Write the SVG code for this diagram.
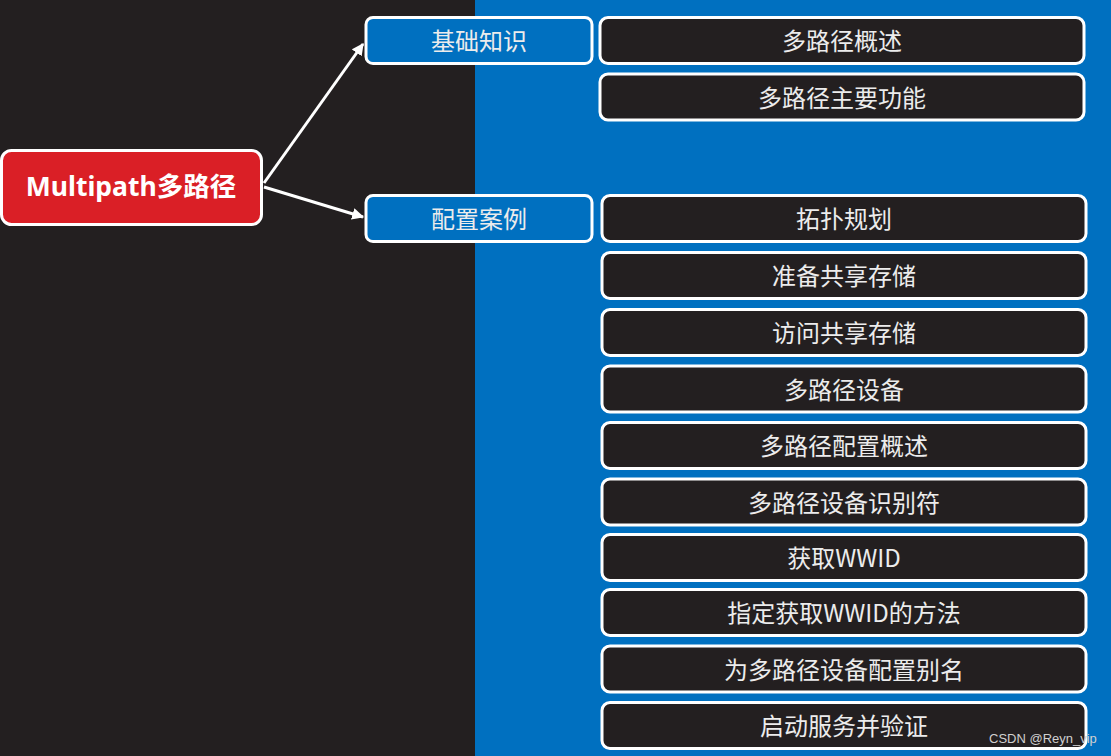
<svg xmlns="http://www.w3.org/2000/svg" width="1111" height="756" viewBox="0 0 1111 756">
<style>
.bg-dark{fill:#231f20}
.bg-blue{fill:#0070c0}
.box{stroke:#ffffff;stroke-width:3}
.leaf{fill:#231f20}
.mid{fill:#0070c0}
.root{fill:#da1f26}
.t{font-family:"Microsoft YaHei","Noto Sans CJK SC",sans-serif;font-size:24px;fill:#ececec;text-anchor:middle;dominant-baseline:central}
.rt{font-family:"Noto Sans","Noto Sans CJK SC",sans-serif;font-size:26.5px;font-weight:bold;fill:#ffffff;text-anchor:middle;dominant-baseline:central}
.conn{stroke:#ffffff;stroke-width:3;fill:none}
.wm{font-family:"Liberation Sans",sans-serif;font-size:13px;fill:#d0d0d0}
</style>
<defs>
<marker id="ah" viewBox="0 0 10 10" refX="9" refY="5" markerWidth="4" markerHeight="4" orient="auto" markerUnits="strokeWidth">
<path d="M0,0 L10,5 L0,10 z" fill="#ffffff"/>
</marker>
</defs>
<rect class="bg-dark" x="0" y="0" width="475" height="756"/>
<rect class="bg-blue" x="475" y="0" width="636" height="756"/>

<g id="connectors">
<line class="conn" x1="264" y1="183" x2="363" y2="44" marker-end="url(#ah)"/>
<line class="conn" x1="264" y1="187" x2="363" y2="217" marker-end="url(#ah)"/>
</g>

<g id="root"><rect class="box root" x="1.5" y="150.5" width="260" height="74" rx="10"/><text class="rt" x="131" y="186">Multipath多路径</text></g>

<g id="n-jichu"><rect class="box mid" x="366" y="17.5" width="226" height="46" rx="7"/><text class="t" x="479" y="39">基础知识</text></g>
<g id="n-peizhi"><rect class="box mid" x="366" y="195.5" width="226" height="46" rx="7"/><text class="t" x="479" y="217">配置案例</text></g>

<g id="l1"><rect class="box leaf" x="600" y="17.5" width="484" height="46" rx="8"/><text class="t" x="842" y="39">多路径概述</text></g>
<g id="l2"><rect class="box leaf" x="600" y="74" width="484" height="46" rx="8"/><text class="t" x="842" y="96">多路径主要功能</text></g>

<g id="c1"><rect class="box leaf" x="602" y="195.5" width="484" height="46" rx="8"/><text class="t" x="844" y="217">拓扑规划</text></g>
<g id="c2"><rect class="box leaf" x="602" y="252.5" width="484" height="46" rx="8"/><text class="t" x="844" y="274">准备共享存储</text></g>
<g id="c3"><rect class="box leaf" x="602" y="309.5" width="484" height="46" rx="8"/><text class="t" x="844" y="331">访问共享存储</text></g>
<g id="c4"><rect class="box leaf" x="602" y="366" width="484" height="46" rx="8"/><text class="t" x="844" y="388">多路径设备</text></g>
<g id="c5"><rect class="box leaf" x="602" y="422.5" width="484" height="46" rx="8"/><text class="t" x="844" y="444">多路径配置概述</text></g>
<g id="c6"><rect class="box leaf" x="602" y="479" width="484" height="46" rx="8"/><text class="t" x="844" y="501">多路径设备识别符</text></g>
<g id="c7"><rect class="box leaf" x="602" y="534.5" width="484" height="46" rx="8"/><text class="t" x="844" y="556">获取WWID</text></g>
<g id="c8"><rect class="box leaf" x="602" y="589.5" width="484" height="46" rx="8"/><text class="t" x="844" y="611">指定获取WWID的方法</text></g>
<g id="c9"><rect class="box leaf" x="602" y="646" width="484" height="46" rx="8"/><text class="t" x="844" y="668">为多路径设备配置别名</text></g>
<g id="c10"><rect class="box leaf" x="602" y="702.5" width="484" height="46" rx="8"/><text class="t" x="844" y="724">启动服务并验证</text></g>

<text class="wm" x="989" y="743">CSDN @Reyn_vip</text>
</svg>
